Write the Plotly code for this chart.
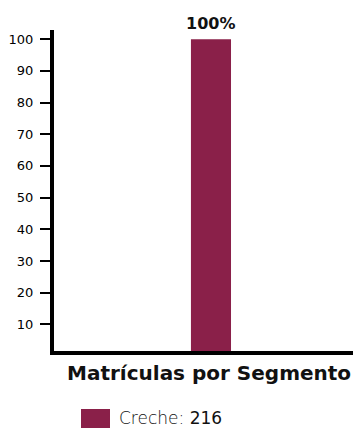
import plotly.graph_objects as go

categories = ["Creche"]
percentages = [100]
counts = [216]
chart_title = "Matrículas por Segmento"
y_ticks = [10, 20, 30, 40, 50, 60, 70, 80, 90, 100]

bar_color = "#8a2049"
W, H = 353, 429
L, R, T, B = 54, 0, 30, 78
pw, ph = W - L - R, H - T - B

def px_x(px):
    return (px - L) / pw

def px_y(py):
    return (H - B - py) / ph

fig = go.Figure()
fig.add_trace(go.Bar(
    x=[0], y=percentages, width=0.134,
    marker=dict(color=bar_color, line=dict(width=0)),
    showlegend=False, hoverinfo="skip",
))

fig.add_annotation(
    x=0, y=percentages[0], xref="x", yref="y",
    text=f"<b>{percentages[0]}%</b>", showarrow=False,
    yanchor="middle", yshift=16,
    font=dict(family="DejaVu Sans", size=16, color="#111"),
)

fig.add_annotation(
    x=px_x(208.5), y=px_y(373), xref="paper", yref="paper",
    text=f"<b>{chart_title}</b>", showarrow=False,
    xanchor="center", yanchor="middle",
    font=dict(family="DejaVu Sans", size=20, color="#111"),
)

fig.add_shape(type="rect", xref="paper", yref="paper",
              x0=px_x(81), x1=px_x(110), y0=px_y(409), y1=px_y(428),
              fillcolor=bar_color, line=dict(width=0))
fig.add_annotation(
    x=px_x(117), y=px_y(418), xref="paper", yref="paper",
    text=f"<span style='font-weight:200'>{categories[0]}: </span><span style='font-weight:500'>{counts[0]}</span>",
    showarrow=False, xanchor="left", yanchor="middle",
    font=dict(family="DejaVu Sans", size=17, color="#111"),
)

fig.update_layout(
    width=W, height=H,
    margin=dict(l=L, r=R, t=T, b=B, pad=0),
    paper_bgcolor="white", plot_bgcolor="white",
    xaxis=dict(range=[-0.525, 0.475], showticklabels=False, ticks="",
               showgrid=False, zeroline=False, showline=True,
               linecolor="black", linewidth=4, fixedrange=True),
    yaxis=dict(range=[1.57, 102.9], tickvals=y_ticks, ticks="outside",
               ticklen=10, tickwidth=1.5, tickcolor="black",
               showgrid=False, zeroline=False, showline=True,
               linecolor="black", linewidth=4, ticklabelstandoff=4,
               tickfont=dict(family="DejaVu Sans", size=13, color="#000")),
)

fig.write_html("out.html", config={"displayModeBar": False},
               post_script="document.body.style.margin='0';document.body.style.overflow='hidden';")
